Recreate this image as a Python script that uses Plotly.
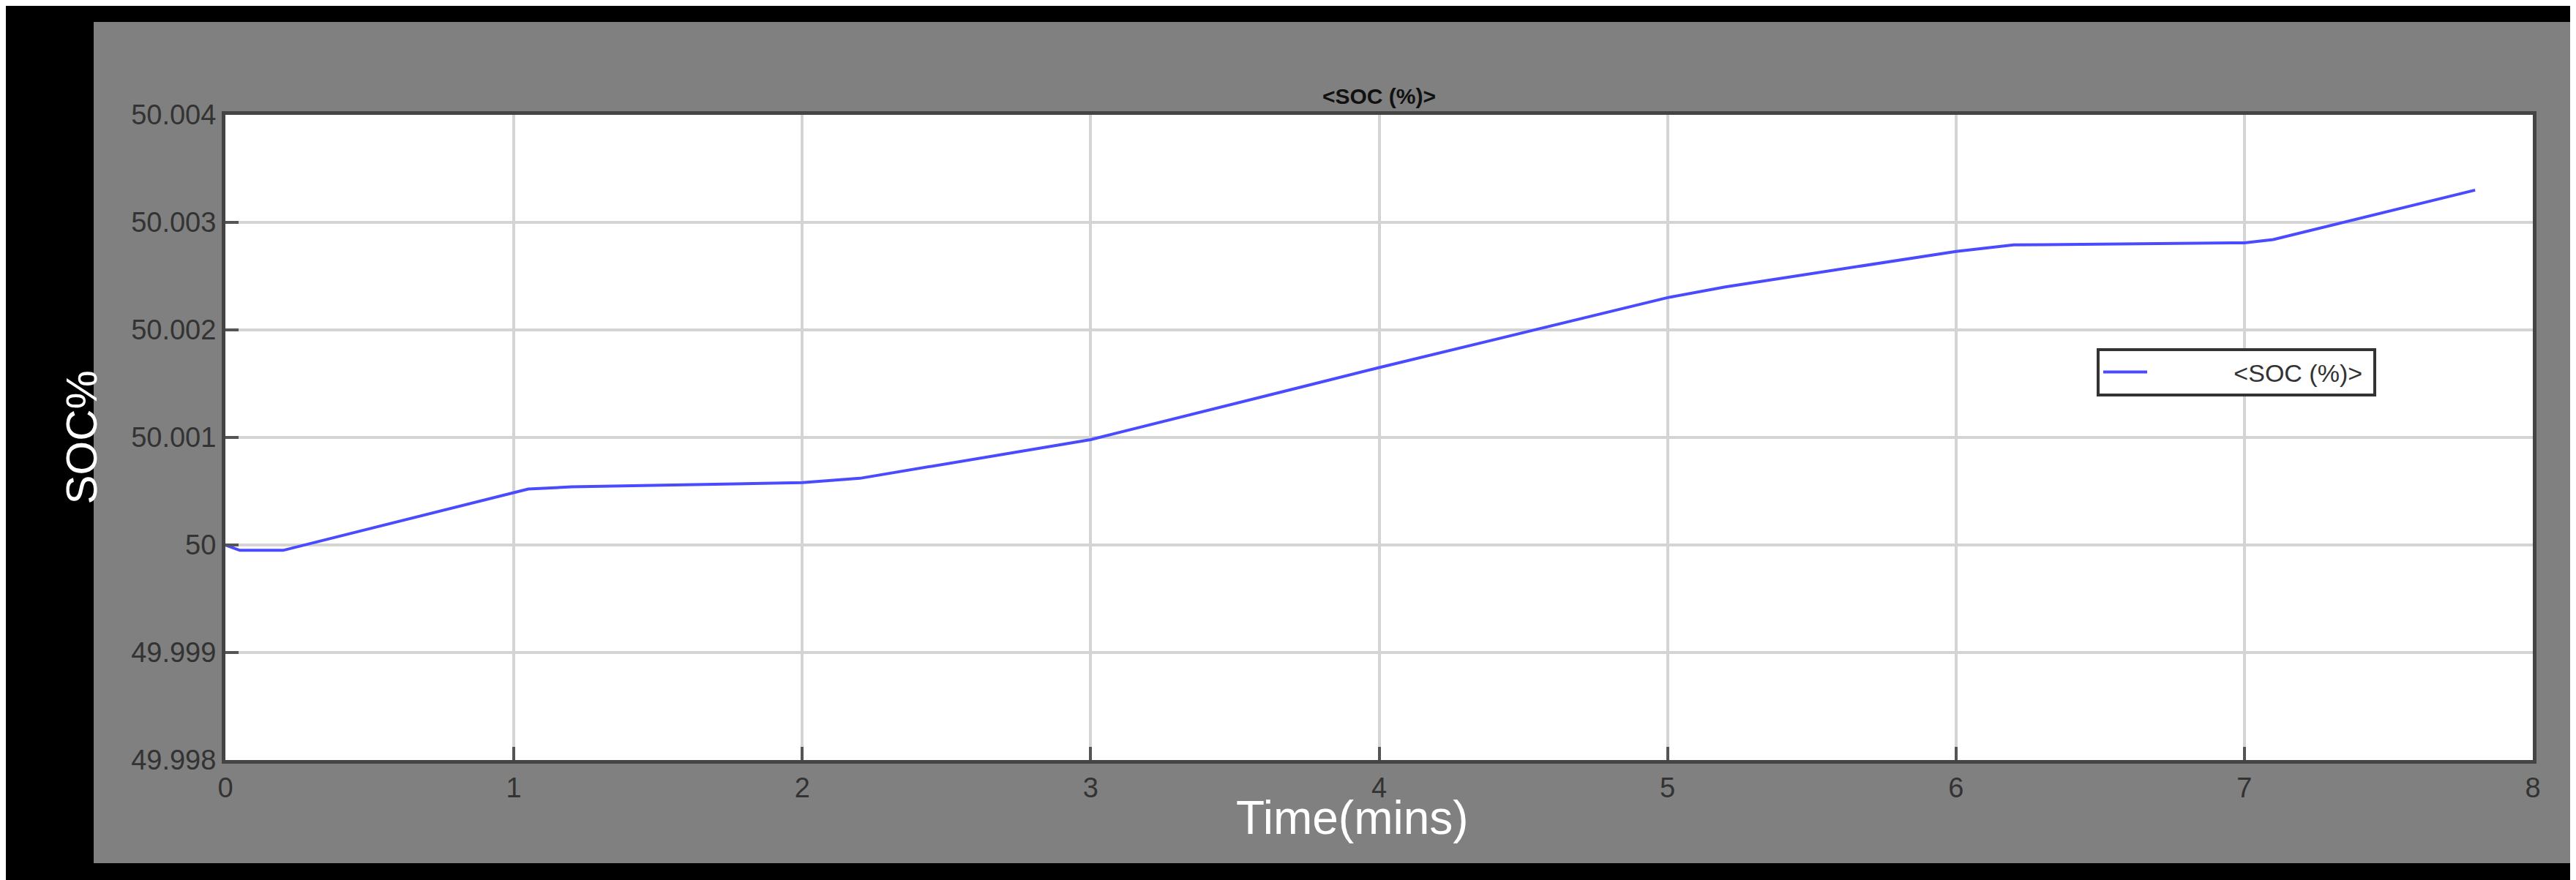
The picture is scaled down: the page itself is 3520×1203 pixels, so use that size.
import plotly.graph_objects as go

# ------------------------
# Data
# ------------------------
time_min = [0, 0.05, 0.2, 1.05, 1.2, 2.0, 2.2, 3.0, 4.0, 5.0, 5.2, 6.0, 6.2, 7.0, 7.1, 7.8]
soc_pct = [50.0, 49.99995, 49.99995, 50.00052, 50.00054, 50.00058, 50.00062, 50.00098,
           50.00165, 50.0023, 50.0024, 50.00273, 50.00279, 50.00281, 50.00284, 50.0033]

y_ticks = [49.998, 49.999, 50, 50.001, 50.002, 50.003, 50.004]
y_labels = ["49.998", "49.999", "50", "50.001", "50.002", "50.003", "50.004"]

W, H = 3520, 1203
GRAY = "#808080"
TICK = "#333333"
PW, PH = W - 367, H - 321  # plot area size in px

fig = go.Figure()
fig.add_trace(go.Scatter(
    x=time_min, y=soc_pct, mode="lines",
    name="&#160;&#160;&#160;&#160;&#160;&#160;&#160;&#160;&#160;&#160;&#160;&#160;&lt;SOC (%)&gt;&#160;",
    line=dict(color="#4a4aff", width=4, shape="linear"),
))

fig.update_layout(
    width=W, height=H,
    paper_bgcolor="black",
    plot_bgcolor="white",
    margin=dict(l=300, r=67, t=149, b=172),
    font=dict(family="Liberation Sans, Arial", color=TICK, size=36),
    xaxis=dict(
        range=[0, 8], dtick=1, showgrid=True, gridcolor="#d4d4d4", gridwidth=4,
        showline=True, linecolor="#444", linewidth=5, mirror=True,
        ticks="inside", ticklen=18, tickwidth=4, tickcolor="#555",
        tickfont=dict(size=38, color=TICK), zeroline=False,
    ),
    yaxis=dict(
        range=[49.998, 50.004], tickvals=y_ticks, ticktext=y_labels,
        showgrid=True, gridcolor="#d4d4d4", gridwidth=4,
        showline=True, linecolor="#444", linewidth=5, mirror=True,
        ticks="inside", ticklen=18, tickwidth=4, tickcolor="#555",
        tickfont=dict(size=38, color=TICK), zeroline=False,
    ),
    legend=dict(
        x=(2857 - 300) / PW, xanchor="left",
        y=1 - (468 - 149) / PH, yanchor="top",
        bgcolor="white", bordercolor="#333", borderwidth=4,
        font=dict(size=34, color=TICK),
        itemwidth=60,
    ),
    showlegend=True,
    shapes=[
        dict(type="rect", xref="paper", yref="paper", layer="below",
             x0=(120 - 300) / PW, x1=(3505 - 300) / PW,
             y0=-(1172 - 1031) / PH, y1=1 + (149 - 22) / PH,
             fillcolor=GRAY, line=dict(width=0)),
        dict(type="rect", xref="paper", yref="paper", layer="below",
             x0=0, x1=1, y0=0, y1=1,
             fillcolor="white", line=dict(width=0)),
    ],
    annotations=[
        dict(text="<b>&lt;SOC (%)&gt;</b>", xref="paper", yref="paper",
             x=0.5, y=1 + (149 - 105) / PH, showarrow=False,
             font=dict(size=30, color="#111")),
        dict(text="Time(mins)", xref="paper", yref="paper",
             x=(1840 - 300) / PW, y=-(1148 - 1031) / PH,
             showarrow=False, font=dict(size=64, color="white")),
        dict(text="SOC%", xref="paper", yref="paper", textangle=-90,
             x=(67 - 300) / PW, y=0.5, showarrow=False,
             font=dict(size=60, color="white")),
    ],
)

fig.write_html("out.html")
